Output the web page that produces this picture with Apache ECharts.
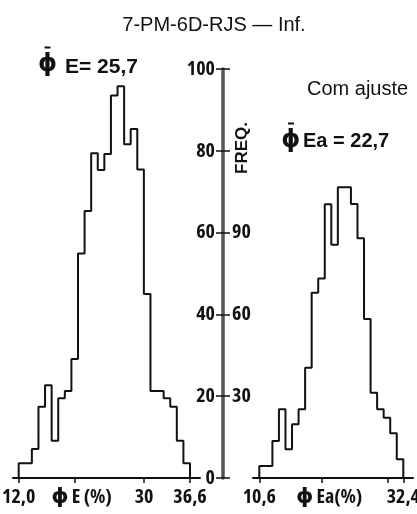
<!DOCTYPE html>
<html>
<head>
<meta charset="utf-8">
<script src="https://cdn.jsdelivr.net/npm/echarts@6/dist/echarts.min.js"></script>
<style>
html,body{margin:0;padding:0;background:#fff;}
#c{width:417px;height:514px;}
</style>
</head>
<body>
<div id="c"></div>
<script>
// ---- data ----
const titleText = '7-PM-6D-RJS \u2014 Inf.';
// left histogram: phi E (%), 26 bins between 12,0 and 36,6
const leftRange = [12.0, 36.6];
const leftFreq = [3.6, 3.6, 7.1, 17.4, 22.7, 9.1, 19.5, 21.3, 29.1, 54.9, 65.3, 79.4, 75.3, 79.2, 93.5, 95.8, 81.6, 85.3, 75.4, 45.0, 21.3, 21.3, 19.5, 17.4, 9.1, 3.6];
// right histogram: phi Ea (%), 22 bins between 10,6 and 32,4 (right frequency scale)
const rightRange = [10.6, 32.4];
const rightFreq = [4.4, 4.4, 13.6, 25.2, 10.5, 19.7, 25.2, 40.4, 67.9, 73.2, 100.4, 85.5, 106.6, 106.6, 100.5, 87.9, 58.3, 31.3, 25.2, 22.1, 16.4, 6.9];
// ticks
const leftXTicks = [12.0, 20, 30, 36.6];
const leftXLabels = ['12,0', '', '30', '36,6'];
const rightXTicks = [10.6, 20, 30, 32.4];
const rightXLabels = ['10,6', '', '', '32,4'];
const freqLeftTicks = [0, 20, 40, 60, 80, 100];
const freqRightTicks = [0, 30, 60, 90, 120, 150];
const freqRightLabels = [30, 60, 90];
const phi = '\u03D5';
const meanLeft = 'E= 25,7';
const meanRight = 'Ea = 22,7';
const subtitle = 'Com ajuste';
const freqName = 'FREQ.';
const leftXName = 'E (%)';
const rightXName = 'Ea(%)';

// ---- build step outlines ----
function outline(range, freq) {
  const n = freq.length, w = (range[1] - range[0]) / n;
  const pts = [[range[0], 0]];
  for (let i = 0; i < n; i++) {
    pts.push([range[0] + i * w, freq[i]]);
    pts.push([range[0] + (i + 1) * w, freq[i]]);
  }
  pts.push([range[1], 0]);
  return pts;
}
function labelFor(ticks, labels) {
  return v => { for (let i = 0; i < ticks.length; i++) if (Math.abs(ticks[i] - v) < 1e-6) return labels[i]; return ''; };
}

const SANS = '"Liberation Sans", Arial, sans-serif';
const COND = {fontFamily: '"Open Sans"', fontWeight: 'bold condensed', fontSize: 20, color: '#111'};
const PHI_RICH = {p: {fontFamily: '"DejaVu Sans"', fontWeight: 'bold', fontSize: 22, color: '#111', padding: [0, 3, 0, 0]}};

// layout (pixels)
const plotTop = 69, plotH = 409;
const L = {left: 13, width: 187, d0: 18.7, d1: 190};
const R = {left: 253, width: 160, d0: 259.3, d1: 403.3};
function ext(g, range) {
  const ppu = (g.d1 - g.d0) / (range[1] - range[0]);
  return [range[0] - (g.d0 - g.left) / ppu, range[1] + (g.left + g.width - g.d1) / ppu];
}
const le = ext(L, leftRange), re = ext(R, rightRange);

const chart = echarts.init(document.getElementById('c'));
chart.setOption({
  animation: false,
  backgroundColor: '#fff',
  grid: [
    {left: L.left, top: plotTop, width: L.width, height: plotH, outerBoundsMode: 'none', containLabel: false},
    {left: R.left, top: plotTop, width: R.width, height: plotH, outerBoundsMode: 'none', containLabel: false}
  ],
  xAxis: [
    {type: 'value', gridIndex: 0, min: le[0], max: le[1], splitLine: {show: false},
     axisLine: {lineStyle: {color: '#111', width: 2}},
     axisTick: {customValues: leftXTicks, length: 5, lineStyle: {color: '#111', width: 1.5}},
     axisLabel: Object.assign({customValues: leftXTicks.filter((v, i) => leftXLabels[i]), formatter: labelFor(leftXTicks, leftXLabels), margin: 9}, COND),
     name: '{p|' + phi + '}' + leftXName, nameLocation: 'middle', nameGap: 8, nameMoveOverlap: false,
     nameTextStyle: Object.assign({verticalAlign: 'top', padding: [0, 50, 0, 0], rich: PHI_RICH}, COND)},
    {type: 'value', gridIndex: 1, min: re[0], max: re[1], splitLine: {show: false},
     axisLine: {lineStyle: {color: '#111', width: 2}},
     axisTick: {customValues: rightXTicks, length: 5, lineStyle: {color: '#111', width: 1.5}},
     axisLabel: Object.assign({customValues: rightXTicks.filter((v, i) => rightXLabels[i]), formatter: labelFor(rightXTicks, rightXLabels), margin: 9}, COND),
     name: '{p|' + phi + '}' + rightXName, nameLocation: 'middle', nameGap: 8, nameMoveOverlap: false,
     nameTextStyle: Object.assign({verticalAlign: 'top', padding: [0, 8, 0, 0], rich: PHI_RICH}, COND)}
  ],
  yAxis: [
    {type: 'value', gridIndex: 0, min: freqLeftTicks[0], max: freqLeftTicks[freqLeftTicks.length - 1], interval: freqLeftTicks[1] - freqLeftTicks[0],
     position: 'right', offset: 23, splitLine: {show: false},
     axisLine: {show: true, lineStyle: {color: '#555', width: 3.5}},
     axisTick: {inside: true, length: 7, lineStyle: {color: '#111', width: 1.5}},
     axisLabel: Object.assign({inside: true, margin: 8}, COND)},
    {type: 'value', gridIndex: 1, min: freqRightTicks[0], max: freqRightTicks[freqRightTicks.length - 1], interval: freqRightTicks[1] - freqRightTicks[0],
     position: 'left', offset: 30, splitLine: {show: false},
     axisLine: {show: false},
     axisTick: {show: true, inside: true, length: 7, lineStyle: {color: '#111', width: 1.5}},
     axisLabel: Object.assign({inside: true, customValues: freqRightLabels, margin: 9}, COND)}
  ],
  series: [
    {type: 'line', xAxisIndex: 0, yAxisIndex: 0, data: outline(leftRange, leftFreq), symbol: 'none', lineStyle: {color: '#111', width: 2}},
    {type: 'line', xAxisIndex: 1, yAxisIndex: 1, data: outline(rightRange, rightFreq), symbol: 'none', lineStyle: {color: '#111', width: 2}}
  ],
  graphic: [
    {type: 'text', x: 214, y: 25, style: {text: titleText, fontFamily: SANS, fontSize: 20, fill: '#111', align: 'center', verticalAlign: 'middle'}},
    {type: 'text', x: 47.5, y: 65, style: {text: phi, fontFamily: 'DejaVu Sans', fontSize: 24, fontWeight: 'bold', fill: '#111', align: 'center', verticalAlign: 'middle'}},
    {type: 'line', shape: {x1: 44.5, y1: 47.5, x2: 50.5, y2: 47.5}, style: {stroke: '#111', lineWidth: 2}},
    {type: 'text', x: 65, y: 67, style: {text: meanLeft, fontFamily: SANS, fontSize: 21, fontWeight: 'bold', fill: '#111', align: 'left', verticalAlign: 'middle'}},
    {type: 'text', x: 307, y: 89, style: {text: subtitle, fontFamily: SANS, fontSize: 20, fill: '#111', align: 'left', verticalAlign: 'middle'}},
    {type: 'text', x: 290.7, y: 141, style: {text: phi, fontFamily: 'DejaVu Sans', fontSize: 24, fontWeight: 'bold', fill: '#111', align: 'center', verticalAlign: 'middle'}},
    {type: 'line', shape: {x1: 288, y1: 123.5, x2: 294, y2: 123.5}, style: {stroke: '#111', lineWidth: 2}},
    {type: 'text', x: 303, y: 141, style: {text: meanRight, fontFamily: SANS, fontSize: 20, fontWeight: 'bold', fill: '#111', align: 'left', verticalAlign: 'middle'}},
    {type: 'text', x: 242, y: 148, rotation: Math.PI / 2, style: {text: freqName, fontFamily: SANS, fontSize: 17, fontWeight: 'bold', fill: '#111', align: 'center', verticalAlign: 'middle'}}
  ]
});
</script>
</body>
</html>
